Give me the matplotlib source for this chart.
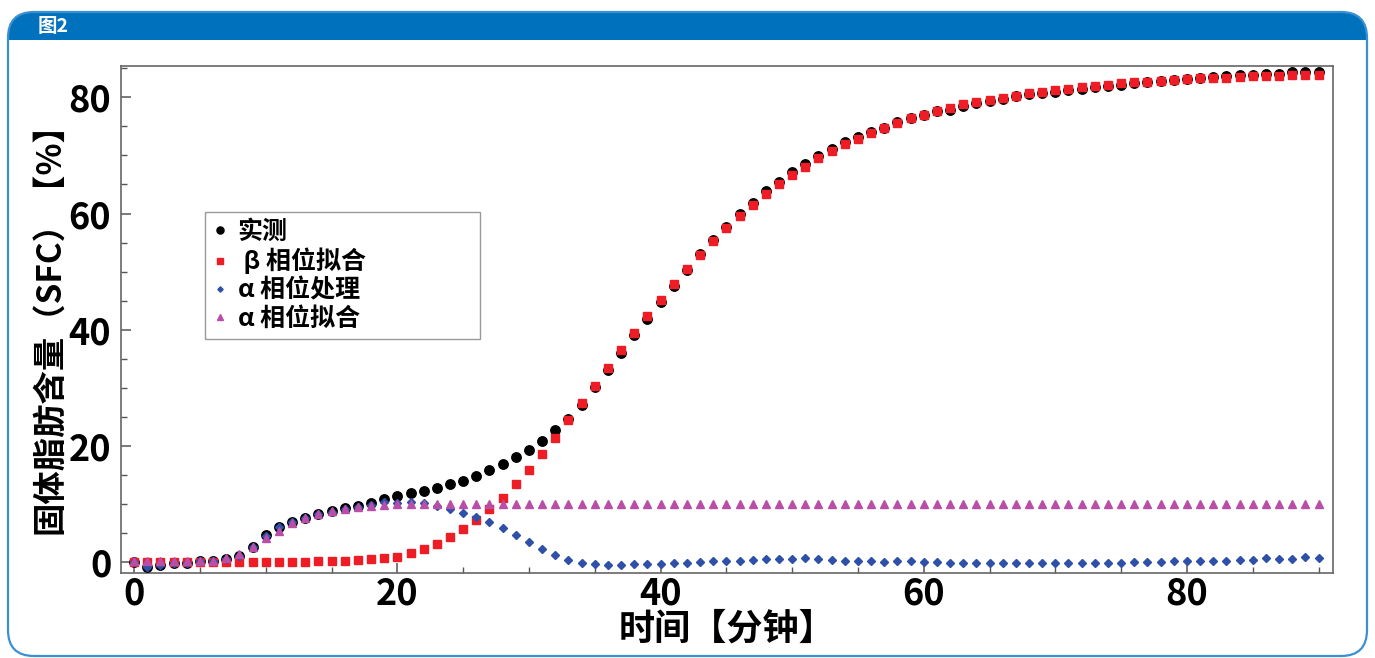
import matplotlib
matplotlib.use("Agg")
import matplotlib.pyplot as plt
from matplotlib.patches import FancyBboxPatch, Rectangle
from matplotlib.ticker import MultipleLocator

# ---------------- data ----------------
minutes = list(range(0, 91))

measured = [0.0, -0.9, -0.5, -0.2, -0.1, 0.2, 0.2, 0.5, 1.0, 2.6,
            4.6, 6.0, 6.8, 7.5, 8.2, 8.7, 9.3, 9.7, 10.2, 10.9,
            11.3, 11.8, 12.3, 12.8, 13.4, 14.0, 14.8, 15.8, 16.9, 18.0,
            19.3, 20.8, 22.7, 24.7, 27.0, 30.1, 33.0, 36.0, 39.0, 41.9,
            44.8, 47.6, 50.3, 53.0, 55.4, 57.6, 60.0, 61.8, 63.9, 65.5,
            67.2, 68.5, 69.9, 71.1, 72.3, 73.1, 74.0, 74.8, 75.7, 76.5,
            77.0, 77.6, 77.9, 78.5, 79.1, 79.4, 79.7, 80.2, 80.5, 80.8,
            80.9, 81.2, 81.4, 81.8, 82.0, 82.1, 82.5, 82.7, 82.8, 83.0,
            83.2, 83.4, 83.5, 83.6, 83.8, 83.9, 84.1, 84.1, 84.3, 84.4,
            84.4]

beta_fit = [0.0, 0.0, 0.0, 0.0, 0.0, 0.0, 0.0, 0.0, 0.0, 0.0,
            0.0, 0.0, 0.0, 0.05, 0.1, 0.2, 0.2, 0.3, 0.5, 0.6,
            0.9, 1.5, 2.2, 3.1, 4.3, 5.6, 7.2, 9.1, 11.1, 13.5,
            15.9, 18.6, 21.4, 24.4, 27.4, 30.3, 33.4, 36.5, 39.4, 42.3,
            45.1, 47.8, 50.5, 52.9, 55.2, 57.5, 59.6, 61.4, 63.4, 65.0,
            66.7, 68.0, 69.5, 70.7, 71.9, 72.9, 73.9, 74.8, 75.6, 76.4,
            76.9, 77.6, 78.2, 78.8, 79.2, 79.6, 79.9, 80.3, 80.7, 81.0,
            81.2, 81.4, 81.7, 82.0, 82.2, 82.4, 82.6, 82.7, 82.9, 83.0,
            83.1, 83.3, 83.3, 83.4, 83.5, 83.6, 83.6, 83.7, 83.8, 83.8,
            83.8]

alpha_proc = [0.0, -0.9, -0.5, -0.2, -0.1, 0.2, 0.2, 0.5, 1.0, 2.5,
              4.5, 6.0, 6.8, 7.5, 8.2, 8.6, 9.1, 9.5, 9.8, 10.4,
              10.2, 10.3, 10.2, 9.6, 9.1, 8.4, 7.7, 6.8, 5.9, 4.6,
              3.4, 2.2, 1.2, 0.3, -0.2, -0.3, -0.6, -0.5, -0.3, -0.3,
              -0.3, -0.1, -0.2, 0.0, 0.2, 0.2, 0.2, 0.3, 0.5, 0.5,
              0.5, 0.6, 0.5, 0.4, 0.2, 0.2, 0.1, 0.0, 0.1, 0.2,
              0.0, 0.0, -0.2, -0.2, -0.1, -0.2, -0.2, -0.2, -0.2, -0.1,
              -0.2, -0.2, -0.2, -0.1, -0.1, -0.2, 0.0, 0.0, 0.0, 0.1,
              0.1, 0.2, 0.2, 0.2, 0.4, 0.3, 0.6, 0.5, 0.5, 0.8,
              0.6]

alpha_fit = [0.1, 0.1, 0.1, 0.1, 0.1, 0.1, 0.2, 0.6, 1.3, 2.6,
             4.1, 5.4, 6.7, 7.6, 8.3, 8.8, 9.2, 9.5, 9.7, 9.8] + [9.9] * 71

series_labels = ["实测", " β 相位拟合", "α 相位处理", "α 相位拟合"]
x_ticks = [0, 20, 40, 60, 80]
y_ticks = [0, 20, 40, 60, 80]
x_label = "时间【分钟】"
y_label = "固体脂肪含量（SFC）【%】"
panel_title = "图2"

# ---------------- figure ----------------
W, H = 1375, 658
fig = plt.figure(figsize=(W / 100, H / 100), dpi=100)
fig.patch.set_facecolor("white")

CJK = ["Noto Sans CJK SC", "DejaVu Sans"]

# background panel drawn in pixel coordinates
bg = fig.add_axes([0, 0, 1, 1], zorder=0)
bg.set_xlim(0, W)
bg.set_ylim(H, 0)
bg.axis("off")
blue = "#0071BC"
hdr = FancyBboxPatch((8, 12), W - 16, 80, boxstyle="round,pad=0,rounding_size=26",
                     facecolor=blue, edgecolor="none", zorder=1)
bg.add_patch(hdr)
bg.add_patch(Rectangle((9, 40), W - 18, 60, facecolor="white", edgecolor="none", zorder=2))
panel = FancyBboxPatch((8, 12), W - 16, H - 14, boxstyle="round,pad=0,rounding_size=26",
                       facecolor="none", edgecolor="#3B8FD3", linewidth=1.6, zorder=3)
bg.add_patch(panel)
bg.text(38, 26, panel_title, color="white", fontsize=14, fontweight="bold",
        family=CJK, va="center", ha="left", zorder=4)

# main axes
AX_L, AX_R, AX_T, AX_B = 121, 1333, 66, 573
ax = fig.add_axes([AX_L / W, 1 - AX_B / H, (AX_R - AX_L) / W, (AX_B - AX_T) / H], zorder=2)
ax.set_facecolor("white")

c_meas = "#000000"
c_beta = "#EE1C25"
c_aproc = "#2E50A8"
c_afit = "#B94EA8"

ax.plot(minutes, measured, linestyle="none", marker="o", markersize=6.8,
        color=c_meas, label=series_labels[0], zorder=3)
ax.plot(minutes, beta_fit, linestyle="none", marker="s", markersize=6.3,
        color=c_beta, label=series_labels[1], zorder=4)
ax.plot(minutes, alpha_proc, linestyle="none", marker="D", markersize=3.6,
        color=c_aproc, label=series_labels[2], zorder=5)
ax.plot(minutes, alpha_fit, linestyle="none", marker="^", markersize=5.5,
        color=c_afit, label=series_labels[3], zorder=6)

ax.set_xlim(-1, 91.1)
ax.set_ylim(-1.9, 85.4)
ax.set_xticks(x_ticks)
ax.set_yticks(y_ticks)
ax.xaxis.set_minor_locator(MultipleLocator(5))
ax.yaxis.set_minor_locator(MultipleLocator(5))
ax.tick_params(which="both", direction="in", top=False, right=False, color="#555555")
ax.tick_params(which="major", length=7, width=1.1)
ax.tick_params(axis="x", which="major", pad=2)
ax.tick_params(axis="y", which="major", pad=7)
ax.tick_params(which="minor", length=4.5, width=1.0)
for lab in ax.get_xticklabels() + ax.get_yticklabels():
    lab.set_fontsize(26)
    lab.set_fontweight("bold")
    lab.set_family(CJK)
for sp in ax.spines.values():
    sp.set_color("#666666")
    sp.set_linewidth(1.2)

ax.set_xlabel(x_label, fontsize=26, fontweight="bold", family=CJK, va="center")
ax.xaxis.set_label_coords(0.5, (AX_B - 629) / (AX_B - AX_T))
ax.set_ylabel(y_label, fontsize=24, fontweight="bold", family=CJK, labelpad=2)

x0 = (205 - AX_L) / (AX_R - AX_L)
y1 = (AX_B - 212) / (AX_B - AX_T)
w = (480 - 205) / (AX_R - AX_L)
h = (341 - 212) / (AX_B - AX_T)
leg = ax.legend(loc="upper left", bbox_to_anchor=(x0, y1 - h, w, h), mode="expand",
                borderaxespad=0, frameon=True, fancybox=False, edgecolor="#808080",
                prop={"family": CJK, "weight": "bold", "size": 18},
                numpoints=1, markerscale=0.75, handlelength=0.6, handletextpad=0.4,
                labelspacing=0.17, borderpad=0.3)
leg.get_frame().set_linewidth(1.0)
leg.set_zorder(10)

fig.savefig("out.png", dpi=100, facecolor="white")
